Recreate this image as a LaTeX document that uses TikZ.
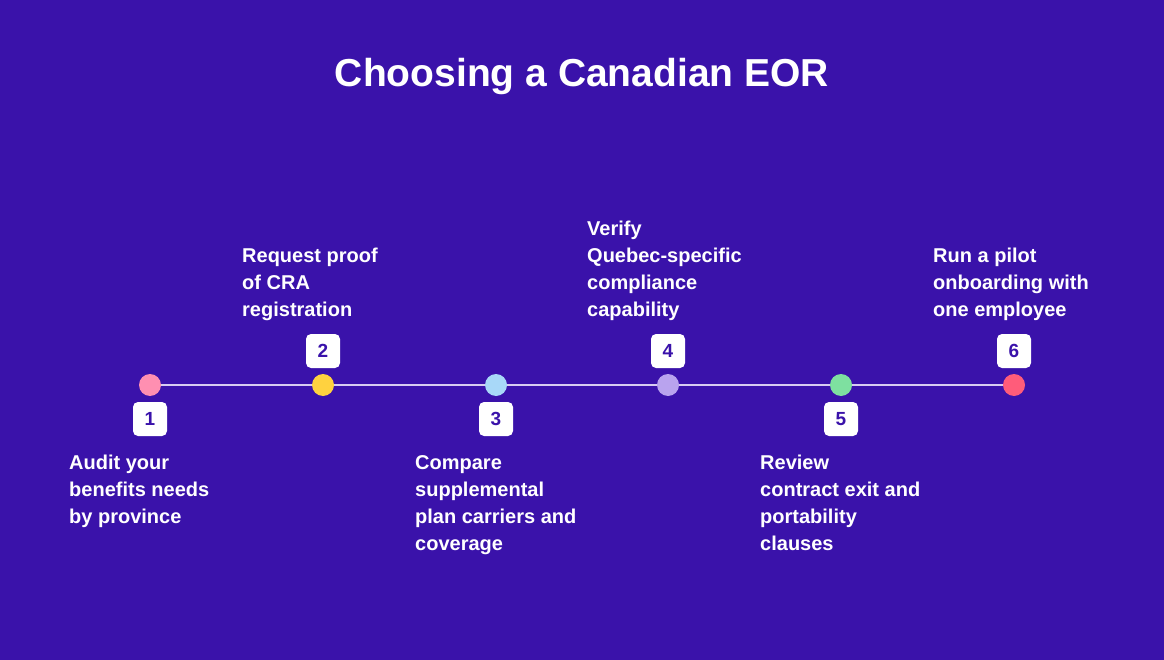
\documentclass[tikz,border=0pt]{standalone}
\usepackage{fontspec}
\setmainfont{Liberation Sans}
\usetikzlibrary{positioning}
\definecolor{bgc}{HTML}{3A12AA}
\definecolor{linec}{HTML}{D8CCF2}
\definecolor{cA}{HTML}{FF8FB1}
\definecolor{cB}{HTML}{FFD23F}
\definecolor{cC}{HTML}{A8D8F8}
\definecolor{cD}{HTML}{B9A3EE}
\definecolor{cE}{HTML}{7EE0A0}
\definecolor{cF}{HTML}{FF5C7A}
\tikzset{
  dotmark/.style={circle,minimum size=22pt,inner sep=0pt},
  numbox/.style={fill=white,rounded corners=5pt,minimum size=34pt,inner sep=0pt,
    text=bgc,font=\bfseries\fontsize{19}{19}\selectfont},
  steptext/.style={text=white,align=left,inner sep=0pt,
    font=\bfseries\fontsize{20}{27}\selectfont}
}
\begin{document}
\begin{tikzpicture}[x=1pt,y=-1pt]
  \fill[bgc] (0,0) rectangle (1164,660);
  \useasboundingbox (0,0) rectangle (1164,660);
  \node[text=white,font=\bfseries\fontsize{39}{39}\selectfont] (title) at (582,77) {Choosing a Canadian EOR};

  % dots on the line
  \node[dotmark,fill=cA] (d1) at (150,385) {};
  \node[dotmark,fill=cB] (d2) at (323,385) {};
  \node[dotmark,fill=cC] (d3) at (496,385) {};
  \node[dotmark,fill=cD] (d4) at (668,385) {};
  \node[dotmark,fill=cE] (d5) at (841,385) {};
  \node[dotmark,fill=cF] (d6) at (1014,385) {};
  \draw[linec,line width=2pt] (d1) -- (d2) -- (d3) -- (d4) -- (d5) -- (d6);

  % number boxes
  \node[numbox] (n1) at (150,419) {1};
  \node[numbox] (n2) at (323,351) {2};
  \node[numbox] (n3) at (496,419) {3};
  \node[numbox] (n4) at (668,351) {4};
  \node[numbox] (n5) at (841,419) {5};
  \node[numbox] (n6) at (1014,351) {6};

  % step texts
  \node[steptext,anchor=north west] (t1) at (69,455) {Audit your\\benefits needs\\by province};
  \node[steptext,anchor=south west] (t2) at (242,321) {Request proof\\of CRA\\registration};
  \node[steptext,anchor=north west] (t3) at (415,455) {Compare\\supplemental\\plan carriers and\\coverage};
  \node[steptext,anchor=south west] (t4) at (587,321) {Verify\\Quebec-specific\\compliance\\capability};
  \node[steptext,anchor=north west] (t5) at (760,455) {Review\\contract exit and\\portability\\clauses};
  \node[steptext,anchor=south west] (t6) at (933,321) {Run a pilot\\onboarding with\\one employee};
\end{tikzpicture}
\end{document}
